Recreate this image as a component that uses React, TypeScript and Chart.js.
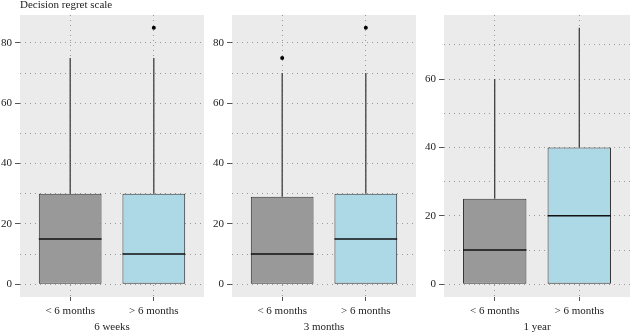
import React, { useEffect, useRef } from 'react';
import { Chart, registerables } from 'chart.js';

Chart.register(...registerables);

// ---------- data ----------
const groups = ['< 6 months', '> 6 months'];
const panelTitles = ['6 weeks', '3 months', '1 year'];
const yAxisTitle = 'Decision regret scale';

const weeks6Min = [0, 0];
const weeks6Q1 = [0, 0];
const weeks6Median = [15, 10];
const weeks6Q3 = [30, 30];
const weeks6Max = [75, 75];
const weeks6Outliers = [[], [85]];

const months3Min = [0, 0];
const months3Q1 = [0, 0];
const months3Median = [10, 15];
const months3Q3 = [29, 30];
const months3Max = [70, 70];
const months3Outliers = [[75], [85]];

const year1Min = [0, 0];
const year1Q1 = [0, 0];
const year1Median = [10, 20];
const year1Q3 = [25, 40];
const year1Max = [60, 75];
const year1Outliers = [[], []];

const majorTicks6w = [0, 20, 40, 60, 80];
const majorTicks3m = [0, 20, 40, 60, 80];
const majorTicks1y = [0, 20, 40, 60];
const minorTicks6w = [10, 30, 50, 70];
const minorTicks3m = [10, 30, 50, 70];
const minorTicks1y = [10, 30, 50, 70];

const panels = [
  { title: panelTitles[0], min: weeks6Min, q1: weeks6Q1, med: weeks6Median, q3: weeks6Q3, max: weeks6Max, out: weeks6Outliers, major: majorTicks6w, minor: minorTicks6w },
  { title: panelTitles[1], min: months3Min, q1: months3Q1, med: months3Median, q3: months3Q3, max: months3Max, out: months3Outliers, major: majorTicks3m, minor: minorTicks3m },
  { title: panelTitles[2], min: year1Min, q1: year1Q1, med: year1Median, q3: year1Q3, max: year1Max, out: year1Outliers, major: majorTicks1y, minor: minorTicks1y },
];

// ---------- styles / layout ----------
const FONT = '"Liberation Serif", "DejaVu Serif", serif';
const BOX_COLORS = ['#999999', '#ADD8E6'];
const PANEL_BG = '#EBEBEB';
const GRID_COLOR = '#999999';
const TEXT_COLOR = '#222222';
const LAYOUT = [
  { left: 0, yW: 20, padRight: 6 },
  { left: 210, yW: 22, padRight: 3 },
  { left: 420, yW: 24, padRight: 0 },
];

function Panel({ idx }: { idx: number }) {
  const ref = useRef<HTMLCanvasElement | null>(null);
  useEffect(() => {
    const p = panels[idx];
    const lay = LAYOUT[idx];
    const allVals = [...p.min, ...p.max, ...p.out.flat()];
    const lo = Math.min(...allVals);
    const hi = Math.max(...allVals);
    const pad = (hi - lo) * 0.05;
    const yTicks = [...p.major, ...p.minor].sort((a, b) => a - b);

    const whiskers: any[] = [];
    groups.forEach((_, i) => {
      whiskers.push({ x: i + 1, y: p.max[i] }, { x: i + 1, y: p.q3[i] }, { x: i + 1, y: null });
      whiskers.push({ x: i + 1, y: p.q1[i] }, { x: i + 1, y: p.min[i] }, { x: i + 1, y: null });
    });
    const outliers: any[] = [];
    p.out.forEach((arr, i) => arr.forEach((v) => outliers.push({ x: i + 1, y: v })));

    const bgPlugin = {
      id: 'panelBg',
      beforeDraw(chart: any) {
        const { ctx, chartArea: a } = chart;
        ctx.save();
        ctx.fillStyle = PANEL_BG;
        ctx.fillRect(a.left, a.top, a.right - a.left, a.bottom - a.top);
        ctx.restore();
      },
    };
    const medianPlugin = {
      id: 'medians',
      afterDatasetsDraw(chart: any) {
        const { ctx } = chart;
        const meta = chart.getDatasetMeta(0);
        const ys = chart.scales.y;
        ctx.save();
        ctx.strokeStyle = '#111111';
        ctx.lineWidth = 1.4;
        meta.data.forEach((bar: any, i: number) => {
          const { x, width } = bar.getProps(['x', 'width'], true);
          const y = ys.getPixelForValue(p.med[i]);
          ctx.beginPath();
          ctx.moveTo(x - width / 2, y);
          ctx.lineTo(x + width / 2, y);
          ctx.stroke();
        });
        ctx.restore();
      },
    };
    const titlePlugin = {
      id: 'yTitle',
      afterDraw(chart: any) {
        if (idx !== 0) return;
        const { ctx, chartArea } = chart;
        ctx.save();
        ctx.font = `11px ${FONT}`;
        ctx.fillStyle = TEXT_COLOR;
        ctx.textAlign = 'left';
        ctx.textBaseline = 'alphabetic';
        ctx.fillText(yAxisTitle, chartArea.left, 8);
        ctx.restore();
      },
    };

    const chart = new Chart(ref.current as HTMLCanvasElement, {
      type: 'bar',
      data: {
        datasets: [
          {
            type: 'bar',
            data: groups.map((_, i) => ({ x: i + 1, y: [p.q1[i], p.q3[i]] })) as any,
            backgroundColor: BOX_COLORS,
            borderColor: '#333333',
            borderWidth: 1,
            borderSkipped: false,
            barPercentage: 0.75,
            categoryPercentage: 1,
            grouped: false,
            order: 1,
          } as any,
          {
            type: 'line',
            data: whiskers,
            borderColor: '#333333',
            borderWidth: 1.2,
            pointRadius: 0,
            spanGaps: false,
            order: 2,
          } as any,
          {
            type: 'scatter',
            data: outliers,
            backgroundColor: '#000000',
            borderColor: '#000000',
            pointRadius: 2,
            borderWidth: 0,
            order: 0,
          } as any,
        ],
      },
      options: {
        responsive: false,
        animation: false,
        layout: { padding: { top: 15, right: lay.padRight, left: 0, bottom: 0 } },
        plugins: { legend: { display: false }, tooltip: { enabled: false } },
        scales: {
          x: {
            type: 'linear',
            min: 0.4,
            max: 2.6,
            offset: false,
            afterBuildTicks: (s: any) => {
              s.ticks = groups.map((_, i) => ({ value: i + 1 }));
            },
            afterFit: (s: any) => {
              s.height = 36;
            },
            grid: {
              offset: false,
              color: GRID_COLOR,
              lineWidth: 1,
              tickColor: '#555555',
              tickLength: 4,
              tickWidth: 1,
            },
            border: { display: false, dash: [1, 4] },
            ticks: {
              autoSkip: false,
              maxRotation: 0,
              padding: 4,
              color: TEXT_COLOR,
              font: { family: FONT, size: 11 },
              callback: (_v: any, i: number) => groups[i],
            },
            title: {
              display: true,
              text: p.title,
              color: TEXT_COLOR,
              font: { family: FONT, size: 11 },
              padding: { top: 0, bottom: -1 },
            },
          } as any,
          y: {
            type: 'linear',
            min: lo - pad,
            max: hi + pad,
            afterBuildTicks: (s: any) => {
              s.ticks = yTicks.map((v) => ({ value: v }));
            },
            afterFit: (s: any) => {
              s.width = lay.yW;
            },
            grid: {
              color: GRID_COLOR,
              lineWidth: 1,
              tickLength: 5,
              tickWidth: 1,
              tickColor: (c: any) =>
                c.tick && p.major.includes(c.tick.value) ? '#555555' : 'rgba(0,0,0,0)',
            },
            border: { display: false, dash: [1, 4] },
            ticks: {
              autoSkip: false,
              padding: 3,
              color: TEXT_COLOR,
              font: { family: FONT, size: 11 },
              callback: (v: any) => (p.major.includes(v) ? String(v) : ''),
            },
          } as any,
        },
      },
      plugins: [bgPlugin, medianPlugin, titlePlugin],
    } as any);
    return () => chart.destroy();
  }, [idx]);

  return (
    <canvas
      ref={ref}
      width={210}
      height={333}
      style={{ position: 'absolute', left: LAYOUT[idx].left, top: 0, width: 210, height: 333 }}
    />
  );
}

export default function App() {
  return (
    <div
      style={{
        position: 'fixed',
        left: 0,
        top: 0,
        width: 630,
        height: 333,
        background: '#ffffff',
        overflow: 'hidden',
      }}
    >
      {panels.map((_, i) => (
        <Panel key={i} idx={i} />
      ))}
    </div>
  );
}
